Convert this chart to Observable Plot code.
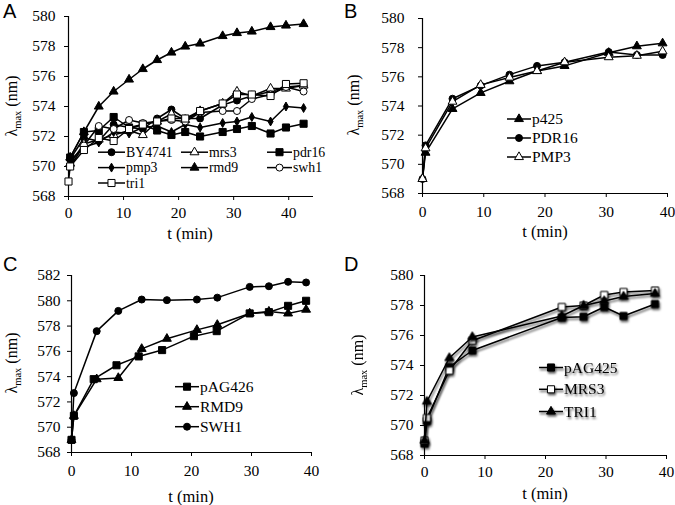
<!DOCTYPE html>
<html><head><meta charset="utf-8">
<script src="https://cdn.jsdelivr.net/npm/d3@7"></script>
<script src="https://cdn.jsdelivr.net/npm/@observablehq/plot@0.6"></script>
<style>
body{margin:0;background:#fff;}
#fig{position:relative;width:675px;height:505px;overflow:hidden;background:#fff;}
#fig svg{position:absolute;overflow:visible;}
#fig svg text, #fig svg tspan{font-family:"Liberation Serif","Times New Roman",serif !important;font-weight:normal !important;}
.letter{position:absolute;font-family:"Liberation Sans",Arial,sans-serif;font-size:20px;line-height:normal;color:#000;}
</style></head><body><div id="fig"></div>
<script>
// ---------- Panel A ----------
const tA = [0.3, 2.8, 5.5, 8.2, 11, 13.5, 16.1, 18.7, 21.2, 23.9, 28, 30.6, 33.3, 36.7, 39.5, 42.7];
const tA_tri1 = [0, 0.3, 2.8, 5.5, 8.2, 11, 13.5, 16.1, 18.7, 21.2, 23.9, 28, 30.6, 33.3, 36.7, 39.5, 42.7];
const A_BY4741 = [570.5, 571.9, 571.7, 572.8, 572.6, 572.5, 573.2, 573.8, 573.2, 573.2, 574.1, 574.4, 574.7, 575.0, 575.3, 575.4];
const A_mrs3   = [570.2, 571.5, 571.8, 572.1, 572.4, 572.1, 573.0, 573.5, 573.1, 573.7, 574.2, 575.0, 574.7, 575.2, 575.2, 575.4];
const A_pdr16  = [570.6, 572.3, 572.4, 573.3, 572.6, 572.8, 572.4, 572.1, 572.3, 572.0, 572.3, 572.5, 572.7, 572.2, 572.6, 572.85];
const A_pmp3   = [570.4, 571.3, 571.6, 572.3, 572.2, 572.6, 572.7, 572.3, 572.8, 572.6, 572.9, 573.0, 573.3, 573.0, 574.0, 573.9];
const A_rmd9   = [570.6, 572.3, 574.0, 575.0, 575.8, 576.5, 577.1, 577.6, 578.0, 578.2, 578.7, 578.9, 579.0, 579.3, 579.4, 579.5];
const A_swh1   = [570.0, 571.4, 572.7, 572.5, 573.1, 572.9, 573.0, 573.1, 573.0, 573.6, 573.7, 573.7, 574.5, 574.8, 575.3, 575.0];
const A_tri1   = [569.0, 570.0, 571.1, 571.9, 571.7, 572.5, 572.8, 573.0, 573.2, 573.2, 573.7, 574.2, 574.8, 574.8, 574.7, 575.5, 575.55];

// ---------- Panel B ----------
const tB = [0, 0.5, 4.9, 9.5, 14.2, 18.7, 23.2, 30.4, 35.0, 39.2];
const B_p425  = [569.0, 570.8, 573.8, 574.9, 575.7, 576.4, 576.75, 577.65, 578.1, 578.3];
const B_PDR16 = [569.0, 571.3, 574.5, 575.4, 576.15, 576.75, 577.0, 577.7, 577.5, 577.5];
const B_PMP3  = [569.0, 571.1, 574.3, 575.45, 575.95, 576.4, 577.0, 577.35, 577.45, 577.75];

// ---------- Panel C ----------
const tC_pAG426 = [0, 0.4, 3.7, 7.5, 11.2, 15.1, 20.4, 24.2, 29.7, 32.9, 36.1, 39.1];
const tC = [0, 0.4, 4.2, 7.8, 11.7, 15.9, 20.9, 24.3, 29.7, 32.9, 36.1, 39.1];
const C_pAG426 = [569.0, 570.9, 573.8, 574.9, 575.6, 576.1, 577.2, 577.6, 579.0, 579.1, 579.6, 580.0];
const C_RMD9   = [569.0, 570.9, 573.8, 573.9, 576.2, 577.0, 577.7, 578.1, 579.0, 579.15, 579.0, 579.3];
const C_SWH1   = [569.0, 572.7, 577.6, 579.2, 580.1, 580.05, 580.1, 580.25, 581.1, 581.15, 581.5, 581.45];

// ---------- Panel D ----------
const tD = [0, 0.4, 4.1, 7.9, 22.7, 26.3, 29.7, 32.9, 38.1];
const D_pAG425 = [568.8, 570.3, 573.9, 575.0, 577.2, 577.25, 577.9, 577.3, 578.1];
const D_MRS3   = [569.0, 570.5, 573.65, 575.65, 577.9, 578.0, 578.7, 578.9, 579.0];
const D_TRI1   = [569.0, 571.6, 574.5, 575.9, 577.3, 578.0, 578.3, 578.6, 578.8];

const xTicks = [0, 10, 20, 30, 40];
const yTicksA = [568, 570, 572, 574, 576, 578, 580];
const yTicksC = [568, 570, 572, 574, 576, 578, 580, 582];

const mk = (t, v) => t.map((d, i) => ({t: d, v: v[i]}));
const S = (name, t, v, symbol, open, r) => ({name, data: mk(t, v), symbol, fill: open ? "white" : "black", r});

const symMap = {circle: d3.symbolCircle, square: d3.symbolSquare, triangle: d3.symbolTriangle, diamond: d3.symbolDiamond};
const SERIF = "'Liberation Serif','Times New Roman',serif";

function panel(cfg) {
  const marks = [
    Plot.ruleY([cfg.yDomain[0]], {stroke: "black", strokeWidth: 1.2}),
    Plot.ruleX([0], {stroke: "black", strokeWidth: 1.2})
  ];
  for (const s of cfg.series) {
    marks.push(Plot.line(s.data, {x: "t", y: "v", stroke: "black", strokeWidth: 1.5}));
    marks.push(Plot.dot(s.data, {x: "t", y: "v", symbol: s.symbol, fill: s.fill, stroke: "black", strokeWidth: 1, r: s.r}));
  }
  const svg = Plot.plot({
    width: cfg.width, height: cfg.height,
    marginLeft: cfg.ml, marginRight: cfg.mr, marginTop: cfg.mt, marginBottom: cfg.mb,
    style: {fontSize: "15.5px", fontFamily: SERIF, color: "black", background: "transparent"},
    x: {domain: cfg.xDomain, ticks: xTicks, tickSize: 4, tickPadding: cfg.xpad, label: null, tickFormat: d => String(d)},
    y: {domain: cfg.yDomain, ticks: cfg.yTicks, tickSize: 4, tickPadding: cfg.ypad, label: null, tickFormat: d => String(d)},
    marks
  });
  svg.style.left = cfg.left + "px";
  svg.style.top = cfg.top + "px";
  const g = d3.select(svg);
  // y label: λmax (nm)
  const yl = g.append("text")
    .attr("transform", `translate(${cfg.ylab[0]},${cfg.ylab[1]}) rotate(-90)`)
    .attr("text-anchor", "middle")
    .attr("font-family", SERIF)
    .attr("font-size", 16).attr("fill", "black");
  yl.append("tspan").text("λ");
  yl.append("tspan").attr("font-size", 10.5).attr("dy", 4).text("max");
  yl.append("tspan").attr("dy", -4).text(" (nm)");
  // x label
  g.append("text").attr("x", cfg.xlab[0]).attr("y", cfg.xlab[1])
    .attr("text-anchor", "middle")
    .attr("font-family", SERIF)
    .attr("font-size", 16.5).attr("fill", "black").text("t (min)");
  // legend
  const lg = g.append("g").attr("class", "legend");
  cfg.legend.forEach((item) => {
    const s = cfg.series.find(d => d.name === item.name);
    const y = item.y - cfg.top, x1 = item.x1 - cfg.left, x2 = item.x2 - cfg.left;
    const it = lg.append("g");
    it.append("line").attr("x1", x1).attr("x2", x2).attr("y1", y).attr("y2", y).attr("stroke", "black").attr("stroke-width", 1.5);
    const cx = (x1 + x2) / 2;
    if (s.symbol === "circle") {
      it.append("circle").attr("cx", cx).attr("cy", y).attr("r", s.r).attr("fill", s.fill).attr("stroke", "black");
    } else {
      it.append("path").attr("transform", `translate(${cx},${y})`)
        .attr("d", d3.symbol(symMap[s.symbol], s.r * s.r * Math.PI)()).attr("fill", s.fill).attr("stroke", "black");
    }
    it.append("text").attr("x", x2 + 1).attr("y", y).attr("dy", "0.33em")
      .attr("text-anchor", "start")
      .attr("font-family", SERIF)
      .attr("font-size", cfg.legendFont).attr("fill", "black").text(s.name);
  });
  if (cfg.shadow) {
    svg.querySelectorAll('g[aria-label="line"], g[aria-label="dot"], g.legend').forEach(e => {
      e.style.filter = "drop-shadow(1.5px 2.5px 1.3px rgba(0,0,0,0.65))";
    });
  }
  document.getElementById("fig").appendChild(svg);
  const L = document.createElement("div");
  L.className = "letter";
  L.textContent = cfg.letter;
  L.style.left = cfg.letterPos[0] + "px";
  L.style.top = cfg.letterPos[1] + "px";
  document.getElementById("fig").appendChild(L);
}

const rC = 3.5, rS = 4, rT = 3.3, rD = 2.7;

panel({
  letter: "A", letterPos: [3, 0],
  left: 0, top: 0, width: 335, height: 250, ml: 68, mr: 22, mt: 16, mb: 54,
  xDomain: [0, 44.5], yDomain: [568, 580], yTicks: yTicksA, xpad: 6, ypad: 9,
  ylab: [17, 106], xlab: [190, 239], legendFont: 13.8,
  series: [
    S("BY4741", tA, A_BY4741, "circle", false, rC),
    S("mrs3", tA, A_mrs3, "triangle", true, rT),
    S("pdr16", tA, A_pdr16, "square", false, rS),
    S("pmp3", tA, A_pmp3, "diamond", false, rD),
    S("rmd9", tA, A_rmd9, "triangle", false, rT),
    S("swh1", tA, A_swh1, "circle", true, rC),
    S("tri1", tA_tri1, A_tri1, "square", true, rS)
  ],
  legend: [
    {name: "BY4741", x1: 98, x2: 125, y: 152.2},
    {name: "mrs3", x1: 181, x2: 208, y: 152.2},
    {name: "pdr16", x1: 267, x2: 292, y: 152.2},
    {name: "pmp3", x1: 98, x2: 125, y: 167.6},
    {name: "rmd9", x1: 181, x2: 208, y: 167.6},
    {name: "swh1", x1: 267, x2: 292, y: 167.6},
    {name: "tri1", x1: 98, x2: 125, y: 183}
  ]
});

panel({
  letter: "B", letterPos: [344, 0],
  left: 335, top: 0, width: 340, height: 250, ml: 87, mr: 8, mt: 18, mb: 57,
  xDomain: [0, 40], yDomain: [568, 580], yTicks: yTicksA, xpad: 8, ypad: 14,
  ylab: [24, 105], xlab: [210, 237], legendFont: 15.5,
  series: [
    S("p425", tB, B_p425, "triangle", false, rT),
    S("PDR16", tB, B_PDR16, "circle", false, rC),
    S("PMP3", tB, B_PMP3, "triangle", true, rT)
  ],
  legend: [
    {name: "p425", x1: 507, x2: 531, y: 119},
    {name: "PDR16", x1: 507, x2: 531, y: 138},
    {name: "PMP3", x1: 507, x2: 531, y: 157}
  ]
});

panel({
  letter: "C", letterPos: [3, 253],
  left: 0, top: 250, width: 335, height: 255, ml: 71, mr: 24, mt: 25, mb: 53,
  xDomain: [0, 40], yDomain: [568, 582], yTicks: yTicksC, xpad: 8, ypad: 7,
  ylab: [17, 113], xlab: [191, 252], legendFont: 15.5,
  series: [
    S("pAG426", tC_pAG426, C_pAG426, "square", false, rS),
    S("RMD9", tC, C_RMD9, "triangle", false, rT),
    S("SWH1", tC, C_SWH1, "circle", false, rC)
  ],
  legend: [
    {name: "pAG426", x1: 175, x2: 199, y: 386.7},
    {name: "RMD9", x1: 175, x2: 199, y: 406.7},
    {name: "SWH1", x1: 175, x2: 199, y: 426.7}
  ]
});

panel({
  letter: "D", letterPos: [344, 253],
  left: 335, top: 250, width: 340, height: 255, ml: 89, mr: 9, mt: 25, mb: 50,
  xDomain: [0, 40], yDomain: [568, 580], yTicks: yTicksA, xpad: 6, ypad: 7,
  ylab: [28, 115], xlab: [210, 249], legendFont: 15.5,
  series: [
    S("pAG425", tD, D_pAG425, "square", false, rS),
    S("MRS3", tD, D_MRS3, "square", true, rS),
    S("TRI1", tD, D_TRI1, "triangle", false, rT)
  ],
  legend: [
    {name: "pAG425", x1: 539, x2: 563, y: 367.5},
    {name: "MRS3", x1: 539, x2: 563, y: 389.3},
    {name: "TRI1", x1: 539, x2: 563, y: 411.5}
  ],
  shadow: true
});
</script></body></html>
